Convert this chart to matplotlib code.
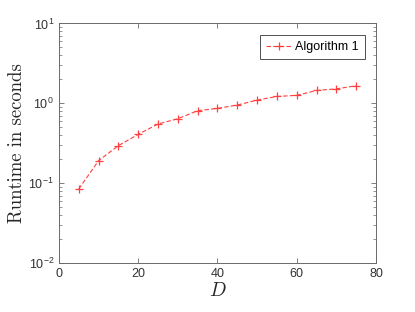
import numpy as np
import matplotlib
matplotlib.use("Agg")
import matplotlib.pyplot as plt
from matplotlib.ticker import LogLocator, NullFormatter

# runtime data
dims = [5, 10, 15, 20, 25, 30, 35, 40, 45, 50, 55, 60, 65, 70, 75]
runtime = [0.085, 0.192, 0.296, 0.41, 0.552, 0.643, 0.81, 0.866, 0.953,
           1.10, 1.22, 1.26, 1.45, 1.52, 1.66]
x_ticks = [0, 20, 40, 60, 80]

plt.rcParams['font.family'] = 'Liberation Sans'
plt.rcParams['mathtext.fontset'] = 'custom'
plt.rcParams['mathtext.rm'] = 'Liberation Sans'
plt.rcParams['mathtext.it'] = 'cmmi10'

axis_color = '#6a6a6a'
text_color = '#333333'

fig = plt.figure(figsize=(4.15, 3.12), dpi=100)
ax = fig.add_axes([0.142, 0.156, 0.764, 0.769])

ax.plot(dims, runtime, color='#ff4040', linestyle='--', linewidth=0.8,
        marker='+', markersize=6, markeredgewidth=0.9, label='Algorithm 1',
        dashes=(4, 2))

ax.set_yscale('log')
ax.set_ylim(1e-2, 1e1)
ax.set_xlim(0, 80)
ax.set_xticks(x_ticks)
ax.yaxis.set_minor_locator(LogLocator(base=10, subs=np.arange(2, 10)))
ax.yaxis.set_minor_formatter(NullFormatter())

ax.tick_params(which='both', direction='in', top=True, right=True,
               colors=axis_color, labelcolor=text_color, labelsize=9)
ax.tick_params(which='major', length=3.5, width=0.6)
ax.tick_params(which='minor', length=2, width=0.5)
for s in ax.spines.values():
    s.set_color(axis_color)
    s.set_linewidth(0.7)

ax.set_ylabel('Runtime in seconds', fontfamily='cmr10', fontsize=13.5,
              color='#262626', labelpad=2)
ax.set_xlabel('$D$', fontsize=14, color='#262626', labelpad=1)

leg = ax.legend(loc='upper right', fontsize=9, fancybox=False,
                framealpha=1, edgecolor='#333333', handlelength=2.0,
                borderpad=0.5, handletextpad=0.3, borderaxespad=0.9)
leg.get_frame().set_linewidth(0.6)

fig.savefig('out.png', dpi=100)
